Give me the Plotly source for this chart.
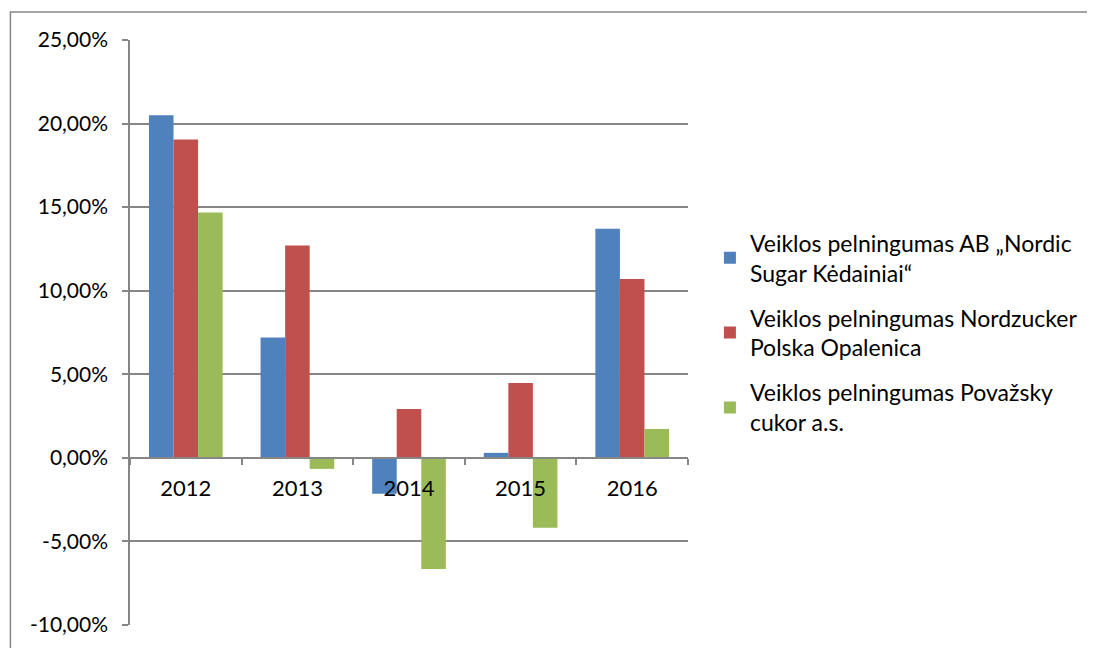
import plotly.graph_objects as go

years = ["2012", "2013", "2014", "2015", "2016"]
series_names = [
    "Veiklos pelningumas AB „Nordic<br>Sugar Kėdainiai“",
    "Veiklos pelningumas Nordzucker<br>Polska Opalenica",
    "Veiklos pelningumas Považsky<br>cukor a.s.",
]
nordic = [20.50, 7.20, -2.15, 0.30, 13.70]
nordzucker = [19.05, 12.70, 2.92, 4.48, 10.70]
povazsky = [14.68, -0.66, -6.65, -4.18, 1.73]
colors = ["#4F81BD", "#C0504D", "#9BBB59"]
y_ticks = [-10, -5, 0, 5, 10, 15, 20, 25]
y_ticktext = ["-10,00%", "-5,00%", "0,00%", "5,00%", "10,00%", "15,00%", "20,00%", "25,00%"]

FONT = "Lato"
OFF = 8  # page body margin
W, H = 1095 - OFF, 648 - OFF
# plot area in screen coordinates
SL, SR, ST, SB = 130, 690, 40, 627
L, R, T, B = SL - OFF, SR - OFF, ST - OFF, SB - OFF


def px(xs):
    return (xs - SL) / (SR - SL)


def py(ys):
    return (SB - ys) / (SB - ST)


fig = go.Figure()
for i, (name, vals) in enumerate(zip(series_names, [nordic, nordzucker, povazsky])):
    fig.add_trace(go.Bar(
        x=years, y=vals, name=name, marker=dict(color=colors[i], line=dict(width=0)),
        legendgroup=f"g{i}",
    ))

ymin, ymax = -10, 25
fig.update_layout(
    width=W, height=H,
    margin=dict(l=L, r=W - R, t=T, b=H - B, pad=0),
    paper_bgcolor="white", plot_bgcolor="white",
    font=dict(family=FONT, size=21, color="black"),
    barmode="group", bargap=0.34, bargroupgap=0,
    showlegend=True,
    legend=dict(
        x=px(712), xanchor="left",
        y=py(222), yanchor="top",
        font=dict(family=FONT, size=23, color="black"),
        tracegroupgap=12, itemsizing="constant",
        bgcolor="rgba(0,0,0,0)",
    ),
    xaxis=dict(
        type="category", anchor="free", position=(0 - ymin) / (ymax - ymin),
        showline=True, linecolor="#868686", linewidth=1.5,
        ticks="outside", ticklen=6, tickcolor="#868686", tickwidth=1.5,
        tickson="boundaries", showgrid=False, zeroline=False,
        tickfont=dict(family=FONT, size=22), ticklabelstandoff=11,
    ),
    yaxis=dict(
        range=[ymin, ymax], tickvals=y_ticks, ticktext=y_ticktext,
        showline=True, linecolor="#868686", linewidth=1.5,
        ticks="outside", ticklen=6, tickcolor="#868686", tickwidth=1.5,
        showgrid=True, gridcolor="#868686", gridwidth=1.5,
        zeroline=False, tickfont=dict(family=FONT, size=21), ticklabelstandoff=10,
    ),
)

# outer chart border
fig.add_shape(type="rect", xref="paper", yref="paper",
              x0=px(10), x1=px(1120),
              y0=py(670), y1=py(12),
              line=dict(color="#868686", width=1.5), fillcolor="rgba(0,0,0,0)", layer="below")

fig.write_html("out.html")
